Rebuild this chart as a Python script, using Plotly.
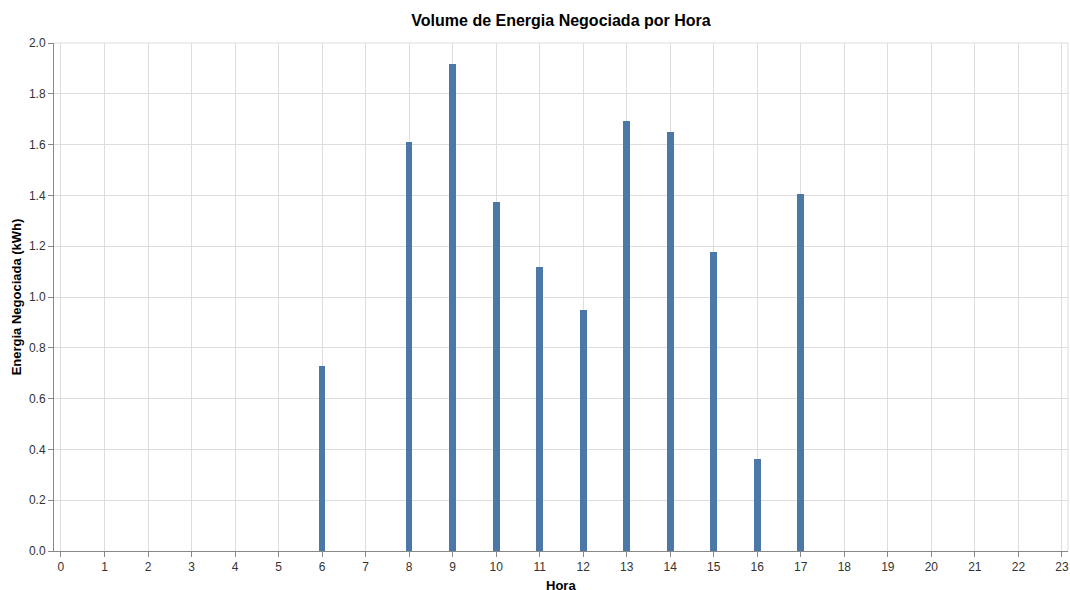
import plotly.graph_objects as go

horas = [6, 8, 9, 10, 11, 12, 13, 14, 15, 16, 17]
energia = [0.728, 1.609, 1.917, 1.375, 1.117, 0.949, 1.692, 1.651, 1.177, 0.362, 1.406]
x_ticks = list(range(0, 24))
y_ticks = [0.0, 0.2, 0.4, 0.6, 0.8, 1.0, 1.2, 1.4, 1.6, 1.8, 2.0]

FONT = "Liberation Sans, Arial, sans-serif"

fig = go.Figure()
fig.add_trace(go.Bar(
    x=horas, y=energia, width=0.155,
    marker=dict(color="#4c78a8", line=dict(width=0)),
    hovertemplate="Hora: %{x}<br>Energia: %{y}<extra></extra>",
))

W, H = 1070, 590

fig.update_layout(
    width=W, height=H,
    margin=dict(l=54, r=2, t=43, b=39, autoexpand=False),
    plot_bgcolor="white", paper_bgcolor="white",
    font=dict(family=FONT, size=12, color="#333"),
    showlegend=False,
    title=dict(text="<b>Volume de Energia Negociada por Hora</b>",
               x=0.5, xref="paper", xanchor="center",
               y=1 - 20 / H, yref="container", yanchor="middle",
               font=dict(family=FONT, size=16, color="#000")),
    bargap=0,
)

fig.update_xaxes(
    range=[-0.16, 23.14],
    tickmode="array", tickvals=x_ticks, ticktext=[str(v) for v in x_ticks],
    showgrid=True, gridcolor="#ddd", gridwidth=1,
    showline=True, linecolor="#888", linewidth=1,
    ticks="outside", ticklen=5, tickcolor="#888",
    zeroline=False,
    ticklabeloverflow="allow",
    tickfont=dict(family=FONT, size=12, color="#333"),
)
fig.update_yaxes(
    range=[0, 2.0],
    tickmode="array", tickvals=y_ticks, ticktext=[f"{v:.1f}" for v in y_ticks],
    showgrid=True, gridcolor="#ddd", gridwidth=1,
    showline=True, linecolor="#888", linewidth=1,
    ticks="outside", ticklen=5, tickcolor="#888",
    zeroline=False,
    tickfont=dict(family=FONT, size=12, color="#333"),
    title=dict(text="<b>Energia Negociada (kWh)</b>", standoff=4,
               font=dict(family=FONT, size=13, color="#000")),
)

# x-axis title placed as an annotation below the tick labels
fig.add_annotation(
    text="<b>Hora</b>", xref="paper", yref="paper",
    x=0.5, y=-(585 - 551) / 508, xanchor="center", yanchor="middle",
    showarrow=False, font=dict(family=FONT, size=13, color="#000"),
)

# view border (top and right) like Vega-Lite default view stroke
fig.add_shape(type="line", xref="paper", yref="paper", x0=0, x1=1, y0=1, y1=1,
              line=dict(color="#ddd", width=1), layer="below")
fig.add_shape(type="line", xref="paper", yref="paper", x0=1, x1=1, y0=0, y1=1,
              line=dict(color="#ddd", width=1), layer="below")

fig.write_html(
    "out.html",
    config={"displayModeBar": False},
    post_script="document.body.style.margin='0';document.body.style.overflow='hidden';",
)
